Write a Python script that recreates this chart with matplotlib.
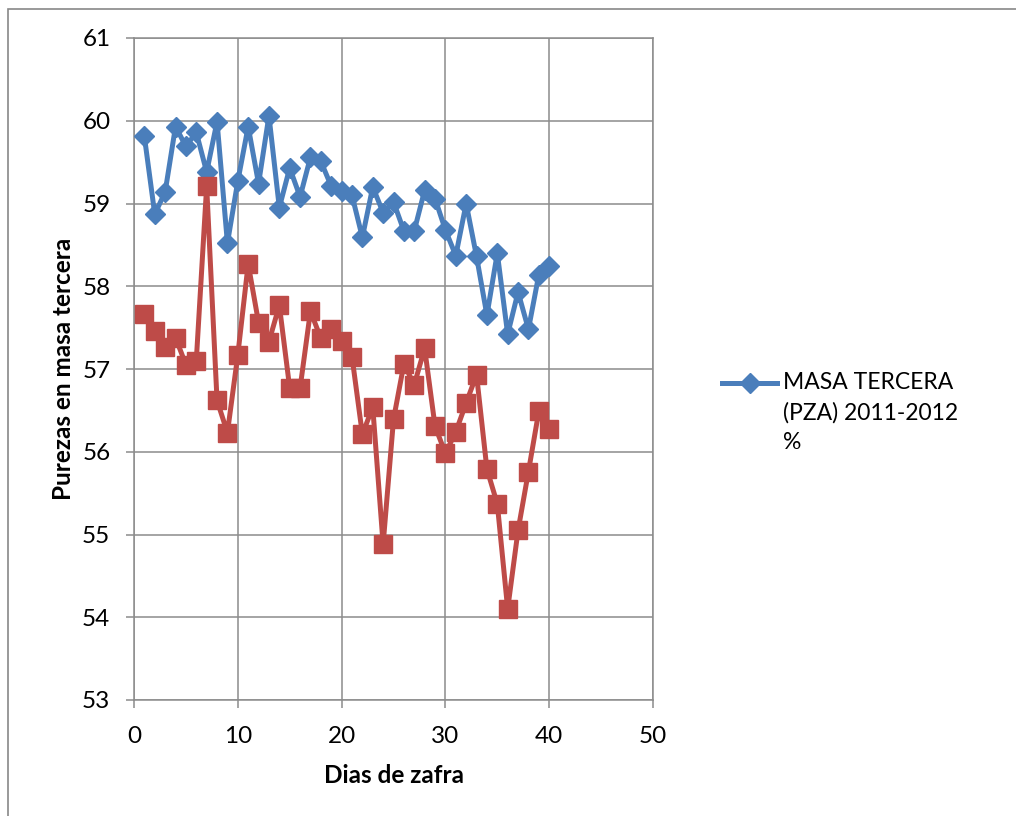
import matplotlib.pyplot as plt
from matplotlib.lines import Line2D
from matplotlib.patches import Rectangle

plt.rcParams["font.family"] = ["Lato", "DejaVu Sans"]

# Days of the harvest (x) and purity values
dias = list(range(1, 41))
masa_tercera_2011 = [
    59.81, 58.87, 59.14, 59.93, 59.69, 59.86, 59.38, 59.99, 58.52, 59.27,
    59.93, 59.24, 60.06, 58.95, 59.43, 59.08, 59.56, 59.51, 59.21, 59.15,
    59.10, 58.59, 59.20, 58.89, 59.02, 58.67, 58.67, 59.16, 59.06, 58.68,
    58.37, 59.00, 58.36, 57.65, 58.40, 57.42, 57.93, 57.48, 58.14, 58.24,
]
masa_tercera_red = [
    57.66, 57.46, 57.26, 57.38, 57.05, 57.10, 59.21, 56.62, 56.23, 57.17,
    58.27, 57.56, 57.33, 57.77, 56.77, 56.77, 57.70, 57.37, 57.48, 57.34,
    57.15, 56.21, 56.54, 54.88, 56.39, 57.06, 56.81, 57.25, 56.31, 55.98,
    56.24, 56.59, 56.93, 55.79, 55.37, 54.10, 55.05, 55.76, 56.49, 56.27,
]
legend_label = "MASA TERCERA\n(PZA) 2011-2012\n%"

blue = "#4A7EBB"
red = "#BE4B48"
grid_col = "#8C8C8C"

fig = plt.figure(figsize=(10.16, 8.16), dpi=100)
ax = fig.add_axes([134 / 1016, 1 - 700 / 816, (653 - 134) / 1016, (700 - 38) / 816])

ax.plot(dias, masa_tercera_2011, color=blue, linewidth=3.6, marker="D",
        markersize=9.8, markerfacecolor=blue, markeredgecolor=blue, zorder=3)
ax.plot(dias, masa_tercera_red, color=red, linewidth=3.6, marker="s",
        markersize=13.5, markerfacecolor=red, markeredgecolor=red, zorder=4)

ax.set_xlim(0, 50)
ax.set_ylim(53, 61)
ax.set_xticks(range(0, 51, 10))
ax.set_yticks(range(53, 62))

ax.grid(True, color=grid_col, linewidth=1.1)
ax.set_axisbelow(True)
for s in ax.spines.values():
    s.set_color(grid_col)
    s.set_linewidth(1.1)
ax.tick_params(axis="both", direction="out", length=6, width=1.1, color=grid_col,
               labelsize=17.5, labelcolor="black")
ax.tick_params(axis="x", pad=13)
ax.tick_params(axis="y", pad=11)

ax.set_xlabel("Dias de zafra", fontsize=17.5, fontweight="bold", labelpad=12)
ax.set_ylabel("Purezas en masa tercera", fontsize=17.5, fontweight="bold", labelpad=5)

# legend drawn by hand so the marker sits on the first text line
fig.add_artist(Line2D([722 / 1016, 777 / 1016], [1 - 383 / 816, 1 - 383 / 816],
                      color=blue, linewidth=3.6, transform=fig.transFigure))
fig.add_artist(Line2D([749.5 / 1016], [1 - 383 / 816], color=blue, marker="D",
                      markersize=9.8, linestyle="none", transform=fig.transFigure))
fig.text(783 / 1016, 1 - 372 / 816, legend_label, fontsize=16.5, va="top",
         ha="left", linespacing=1.5)

# outer chart border
fig.add_artist(Rectangle((8 / 1016, -0.05), 1.1, 1 - 9 / 816 + 0.05,
                         transform=fig.transFigure, fill=False,
                         edgecolor="#888888", linewidth=1.2))

fig.savefig("out.png", dpi=100)
